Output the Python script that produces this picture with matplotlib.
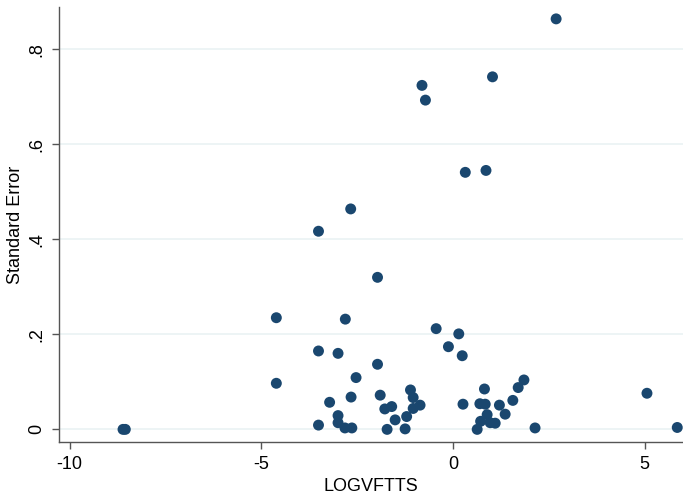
import matplotlib
matplotlib.use("Agg")
import matplotlib.pyplot as plt

# values
logvftts = [2.69, -0.81, -0.72, 1.03, 0.32, 0.86, -2.67, -3.51, -1.97, -4.61,
            -2.81, -0.44, 0.15, -0.12, 0.24, -3.51, -3.00, -1.97, -2.53, -4.61,
            1.85, 1.70, 0.82, 5.06, -1.11, -1.04, -1.90, -2.66, -3.22, 1.56,
            0.26, 0.70, 0.84, 1.21, -0.86, -1.04, -1.60, -1.78, 1.36, 0.89,
            -1.21, -3.00, -1.51, 0.72, 1.10, 0.97, -3.00, -3.51, -2.82, -2.64,
            -1.72, -1.25, 0.63, 2.14, 5.85, -8.61, -8.55]
std_error = [0.864, 0.724, 0.693, 0.742, 0.541, 0.545, 0.464, 0.417, 0.320, 0.235,
             0.232, 0.212, 0.201, 0.174, 0.155, 0.165, 0.160, 0.137, 0.109, 0.097,
             0.104, 0.088, 0.085, 0.076, 0.083, 0.067, 0.072, 0.068, 0.057, 0.061,
             0.053, 0.054, 0.053, 0.051, 0.051, 0.044, 0.048, 0.043, 0.032, 0.031,
             0.027, 0.029, 0.020, 0.017, 0.013, 0.014, 0.014, 0.009, 0.003, 0.003,
             0.000, 0.001, 0.000, 0.003, 0.004, 0.000, 0.000]

x_ticks = [-10, -5, 0, 5]
y_ticks = [0, 0.2, 0.4, 0.6, 0.8]
y_ticklabels = ["0", ".2", ".4", ".6", ".8"]

plt.rcParams['font.family'] = ['Liberation Sans', 'DejaVu Sans']

fig = plt.figure(figsize=(6.83, 4.98), dpi=100)
ax = fig.add_axes([0.0864, 0.113, 0.9136, 0.872])

for y in y_ticks:
    ax.axhline(y, color='#eaf2f3', linewidth=1.2, zorder=0)

ax.scatter(logvftts, std_error, s=62, color='#1a476f', edgecolors='none', zorder=3)

ax.set_xlim(-10.28, 6.0)
ax.set_ylim(-0.026, 0.888)
ax.set_xticks(x_ticks)
ax.set_xticklabels([str(t) for t in x_ticks])
ax.set_yticks(y_ticks)
ax.set_yticklabels(y_ticklabels, rotation=90, va='center')

ax.spines['top'].set_visible(False)
ax.spines['right'].set_visible(False)
for s in ['left', 'bottom']:
    ax.spines[s].set_color('#555555')
    ax.spines[s].set_linewidth(1.0)
ax.tick_params(axis='both', direction='out', length=5, width=1.0, color='#555555',
               labelsize=13, pad=5)

ax.set_xlabel('LOGVFTTS', fontsize=13, labelpad=4)
ax.set_ylabel('Standard Error', fontsize=13, labelpad=3)

fig.savefig('out.png', dpi=100)
